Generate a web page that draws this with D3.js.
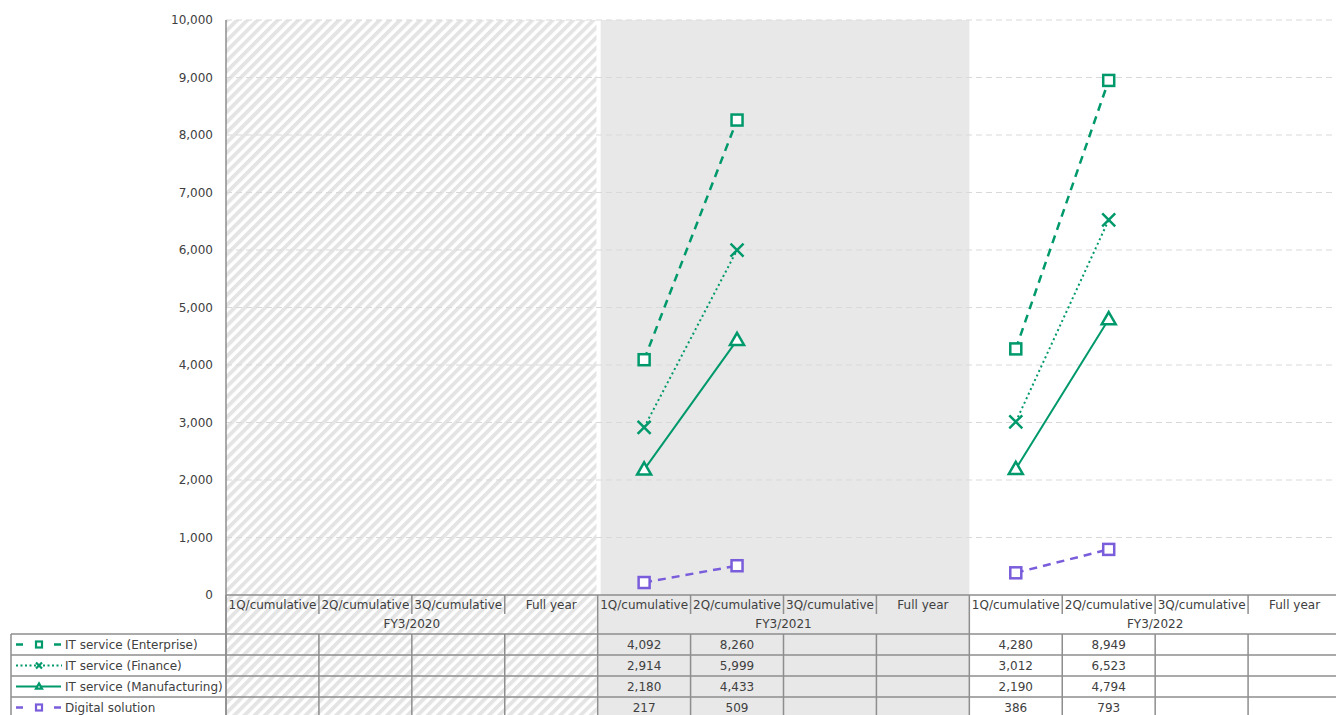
<!DOCTYPE html>
<html>
<head>
<meta charset="utf-8">
<script src="https://cdn.jsdelivr.net/npm/d3@7/dist/d3.min.js"></script>
<style>
  html, body { margin: 0; padding: 0; background: #fff; }
  svg { display: block; font-family: "DejaVu Sans", Verdana, sans-serif; }
</style>
</head>
<body>
<svg id="chart" width="1336" height="715"></svg>
<script>
// Periods within each fiscal year and the fiscal years themselves
const periods = ["1Q/cumulative", "2Q/cumulative", "3Q/cumulative", "Full year"];
const fiscalYears = ["FY3/2020", "FY3/2021", "FY3/2022"];
const yTicks = [0, 1000, 2000, 3000, 4000, 5000, 6000, 7000, 8000, 9000, 10000];

// Cumulative sales per segment, one value per period (null = not reported)
const enterprise    = [null, null, null, null, 4092, 8260, null, null, 4280, 8949, null, null];
const finance       = [null, null, null, null, 2914, 5999, null, null, 3012, 6523, null, null];
const manufacturing = [null, null, null, null, 2180, 4433, null, null, 2190, 4794, null, null];
const digital       = [null, null, null, null,  217,  509, null, null,  386,  793, null, null];

const seriesNames = ["IT service (Enterprise)", "IT service (Finance)", "IT service (Manufacturing)", "Digital solution"];
const seriesValues = [enterprise, finance, manufacturing, digital];

const GREEN = "#00996b", PURPLE = "#7a5ddb", TEXT = "#404040", RULE = "#8e8e8e";
const styles = [
  { color: GREEN,  dash: "8,6", width: 2.5, marker: "square" },
  { color: GREEN,  dash: "2,3", width: 2,   marker: "x" },
  { color: GREEN,  dash: null,  width: 2,   marker: "triangle" },
  { color: PURPLE, dash: "8,6", width: 2.5, marker: "square" }
];

const svg = d3.select("#chart");
const keys = [];
fiscalYears.forEach(fy => periods.forEach(p => keys.push(fy + "|" + p)));

const plotLeft = 226, plotRight = 1341, plotTop = 20, plotBottom = 595;
const x = d3.scaleBand().domain(keys).range([plotLeft, plotRight]).padding(0);
const y = d3.scaleLinear().domain([0, 10000]).range([plotBottom, plotTop]);

const rowH1 = 614, rowH2 = 634, rowH = 21;
const tableBottom = 715;

// Hatch pattern for the year with no figures
const defs = svg.append("defs");
const pat = defs.append("pattern")
  .attr("id", "hatch").attr("patternUnits", "userSpaceOnUse")
  .attr("width", 7.2).attr("height", 7.2)
  .attr("patternTransform", "rotate(45)");
pat.append("rect").attr("width", 7.2).attr("height", 7.2).attr("fill", "#fff");
pat.append("rect").attr("width", 3.8).attr("height", 7.2).attr("fill", "#e4e4e4");

const yearStart = i => x(fiscalYears[i] + "|" + periods[0]);
const yearEnd = i => x(fiscalYears[i] + "|" + periods[3]) + x.bandwidth();

// Background bands
const bg = svg.append("g");
bg.append("rect").attr("x", yearStart(0)).attr("y", plotTop)
  .attr("width", yearEnd(0) - yearStart(0) - 1).attr("height", tableBottom - plotTop)
  .attr("fill", "url(#hatch)");
bg.append("rect").attr("x", yearEnd(0) - 1).attr("y", plotTop)
  .attr("width", 4).attr("height", plotBottom - plotTop).attr("fill", "#fff");
bg.append("rect").attr("x", yearStart(1) + 3).attr("y", plotTop)
  .attr("width", yearEnd(1) - yearStart(1) - 3).attr("height", plotBottom - plotTop)
  .attr("fill", "#e8e8e8");
bg.append("rect").attr("x", yearStart(1)).attr("y", plotBottom)
  .attr("width", yearEnd(1) - yearStart(1)).attr("height", tableBottom - plotBottom)
  .attr("fill", "#e8e8e8");

// Gridlines
svg.append("g").selectAll("line").data(yTicks.filter(t => t > 0)).join("line")
  .attr("x1", plotLeft).attr("x2", 1336)
  .attr("y1", d => y(d)).attr("y2", d => y(d))
  .attr("stroke", "#d9d9d9").attr("stroke-width", 1).attr("stroke-dasharray", "6,4");

// Y axis labels
svg.append("g").selectAll("text").data(yTicks).join("text")
  .attr("x", 213).attr("y", d => y(d)).attr("dy", "0.35em")
  .attr("text-anchor", "end").attr("font-size", 12).attr("fill", TEXT)
  .text(d => d3.format(",")(d));

// Y axis line
svg.append("line").attr("x1", plotLeft).attr("x2", plotLeft)
  .attr("y1", plotTop).attr("y2", tableBottom)
  .attr("stroke", RULE).attr("stroke-width", 1.5);

// Marker drawing
function drawMarker(g, kind, color, s, sw) {
  if (kind === "square") {
    g.append("rect").attr("x", -s / 2).attr("y", -s / 2).attr("width", s).attr("height", s)
      .attr("fill", "#fff").attr("stroke", color).attr("stroke-width", sw);
  } else if (kind === "x") {
    const h = s / 2;
    g.append("path").attr("d", `M${-h},${-h}L${h},${h}M${-h},${h}L${h},${-h}`)
      .attr("stroke", color).attr("stroke-width", sw).attr("fill", "none");
  } else {
    const h = s * 0.87;
    g.append("path").attr("d", `M0,${-h * 0.6}L${s / 2},${h * 0.4}L${-s / 2},${h * 0.4}Z`)
      .attr("fill", "#fff").attr("stroke", color).attr("stroke-width", sw).attr("stroke-linejoin", "miter");
  }
}

// Series lines and markers
const line = d3.line()
  .defined(d => d.v != null)
  .x(d => x(d.k) + x.bandwidth() / 2)
  .y(d => y(d.v));

const markerSize = { square: 11, x: 13, triangle: 14 };
seriesValues.forEach((vals, si) => {
  const st = styles[si];
  const pts = vals.map((v, i) => ({ k: keys[i], v }));
  svg.append("path").datum(pts).attr("d", line)
    .attr("fill", "none").attr("stroke", st.color).attr("stroke-width", st.width)
    .attr("stroke-dasharray", st.dash);
  pts.filter(d => d.v != null).forEach(d => {
    const g = svg.append("g")
      .attr("transform", `translate(${x(d.k) + x.bandwidth() / 2},${y(d.v)})`);
    drawMarker(g, st.marker, st.color, markerSize[st.marker], 2.5);
  });
});

// Data table
const tbl = svg.append("g");
const rule = (x1, y1, x2, y2) => tbl.append("line")
  .attr("x1", x1).attr("y1", y1).attr("x2", x2).attr("y2", y2)
  .attr("stroke", RULE).attr("stroke-width", 1.5);

rule(plotLeft, plotBottom, 1336, plotBottom);
for (let r = 0; r < seriesNames.length; r++) rule(11, rowH2 + r * rowH, 1336, rowH2 + r * rowH);
rule(11, rowH2, 11, tableBottom);

keys.forEach((k, i) => {
  const x0 = x(k);
  if (i % 4 === 0) {
    rule(x0, plotBottom, x0, tableBottom);
  } else {
    rule(x0, plotBottom, x0, rowH1);
    rule(x0, rowH2, x0, tableBottom);
  }
});

// Period labels
tbl.selectAll("text.period").data(keys).join("text")
  .attr("x", d => x(d) + x.bandwidth() / 2).attr("y", (plotBottom + rowH1) / 2)
  .attr("dy", "0.35em").attr("text-anchor", "middle")
  .attr("font-size", 12).attr("fill", TEXT)
  .text(d => d.split("|")[1]);

// Fiscal year labels
tbl.selectAll("text.fy").data(fiscalYears).join("text")
  .attr("x", (d, i) => (yearStart(i) + yearEnd(i)) / 2).attr("y", (rowH1 + rowH2) / 2)
  .attr("dy", "0.35em").attr("text-anchor", "middle")
  .attr("font-size", 12).attr("fill", TEXT)
  .text(d => d);

// Value cells and legend cells
seriesValues.forEach((vals, si) => {
  const cy = rowH2 + si * rowH + rowH / 2;
  vals.forEach((v, i) => {
    if (v == null) return;
    tbl.append("text").attr("x", x(keys[i]) + x.bandwidth() / 2).attr("y", cy)
      .attr("dy", "0.35em").attr("text-anchor", "middle")
      .attr("font-size", 12).attr("fill", TEXT).text(d3.format(",")(v));
  });

  const st = styles[si];
  const lg = tbl.append("g").attr("transform", `translate(0,${cy})`);
  if (st.dash === "8,6") {
    lg.append("line").attr("x1", 16).attr("x2", 23).attr("stroke", st.color).attr("stroke-width", 2.5);
    lg.append("line").attr("x1", 54).attr("x2", 61).attr("stroke", st.color).attr("stroke-width", 2.5);
  } else if (st.dash === "2,3") {
    lg.append("line").attr("x1", 16).attr("x2", 62).attr("stroke", st.color)
      .attr("stroke-width", 2).attr("stroke-dasharray", "2,2.5");
  } else {
    lg.append("line").attr("x1", 16).attr("x2", 61).attr("stroke", st.color).attr("stroke-width", 2);
  }
  const mg = lg.append("g").attr("transform", "translate(39,0)");
  drawMarker(mg, st.marker, st.color, 6, 2.2);

  tbl.append("text").attr("x", 65).attr("y", cy).attr("dy", "0.35em")
    .attr("font-size", 12).attr("fill", TEXT).text(seriesNames[si]);
});
</script>
</body>
</html>
